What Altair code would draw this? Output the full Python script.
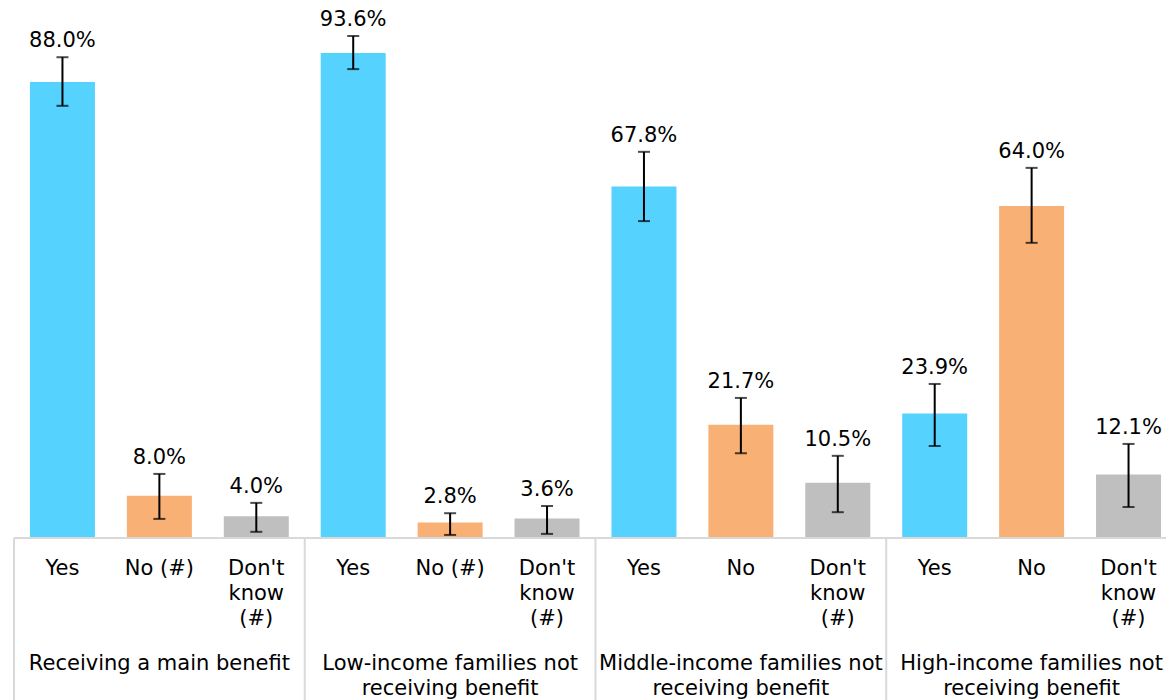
import altair as alt
import pandas as pd

groups = [
    "Receiving a main benefit",
    "Low-income families not\nreceiving benefit",
    "Middle-income families not\nreceiving benefit",
    "High-income families not\nreceiving benefit",
]
answers = [
    ["Yes", "No (#)", "Don't\nknow\n(#)"],
    ["Yes", "No (#)", "Don't\nknow\n(#)"],
    ["Yes", "No", "Don't\nknow\n(#)"],
    ["Yes", "No", "Don't\nknow\n(#)"],
]
kinds = ["Yes", "No", "Don't know"]
values = [
    [88.0, 8.0, 4.0],
    [93.6, 2.8, 3.6],
    [67.8, 21.7, 10.5],
    [23.9, 64.0, 12.1],
]
lows = [
    [83.4, 3.5, 1.0],
    [90.5, 0.4, 0.6],
    [61.1, 16.2, 4.8],
    [17.6, 56.9, 5.8],
]
highs = [
    [92.8, 12.2, 6.6],
    [96.9, 4.6, 6.0],
    [74.5, 26.9, 15.7],
    [29.6, 71.4, 18.0],
]
colors = ["#55D3FE", "#F9B074", "#BFBFBF"]

rows = []
for gi, g in enumerate(groups):
    for ai in range(3):
        rows.append({
            "id": gi * 3 + ai,
            "group": g,
            "answer": answers[gi][ai],
            "kind": kinds[ai],
            "value": values[gi][ai],
            "lo": lows[gi][ai],
            "hi": highs[gi][ai],
            "label": f"{values[gi][ai]:.1f}%",
            "first": ai == 0,
            "middle": ai == 1,
        })
df = pd.DataFrame(rows)
order = list(range(len(rows)))

W, H = 1158, 692
FONT = "DejaVu Sans"

xscale = alt.Scale(domain=order, range=[6, 1169], paddingInner=0, paddingOuter=0)
yscale = alt.Scale(domain=[0, 100], range=[529, 12])
X = alt.X("id:O", scale=xscale, axis=None)
Y = alt.Y("value:Q", scale=yscale, axis=None)

base = alt.Chart(df)

bars = base.mark_bar(width=65).encode(
    x=X,
    y=Y,
    color=alt.Color("kind:N", scale=alt.Scale(domain=kinds, range=colors), legend=None),
)

err = base.mark_rule(color="black", strokeWidth=2).encode(
    x=X,
    y=alt.Y("lo:Q", scale=yscale, axis=None),
    y2="hi:Q",
)
cap_hi = base.mark_tick(color="black", thickness=2, size=12, orient="horizontal").encode(
    x=X, y=alt.Y("hi:Q", scale=yscale, axis=None)
)
cap_lo = base.mark_tick(color="black", thickness=2, size=12, orient="horizontal").encode(
    x=X, y=alt.Y("lo:Q", scale=yscale, axis=None)
)

labels = base.mark_text(font=FONT, fontSize=21, color="black", baseline="alphabetic", dy=-10).encode(
    x=X,
    y=alt.Y("hi:Q", scale=yscale, axis=None),
    text="label:N",
)

axis_line = base.mark_rule(color="#D9D9D9", strokeWidth=2).encode(
    x=alt.value(6), x2=alt.value(W), y=alt.value(530)
)

seps = base.transform_filter("datum.first").mark_rule(color="#D9D9D9", strokeWidth=2).encode(
    x=alt.X("id:O", scale=xscale, axis=None, bandPosition=0),
    y=alt.value(530),
    y2=alt.value(H),
)

cat_text = base.mark_text(
    font=FONT, fontSize=21, color="black", baseline="top", lineBreak="\n", lineHeight=25
).encode(x=X, y=alt.value(550), text="answer:N")

grp_text = base.transform_filter("datum.middle").mark_text(
    font=FONT, fontSize=21, color="black", baseline="top", lineBreak="\n", lineHeight=25
).encode(x=X, y=alt.value(645), text="group:N")

chart = alt.layer(
    bars, err, cap_hi, cap_lo, labels, axis_line, seps, cat_text, grp_text
).properties(
    width=W, height=H, padding=0, autosize=alt.AutoSizeParams(type="none")
).configure_view(stroke=None)

chart.save("out.html", embed_options={"renderer": "svg", "actions": False})
